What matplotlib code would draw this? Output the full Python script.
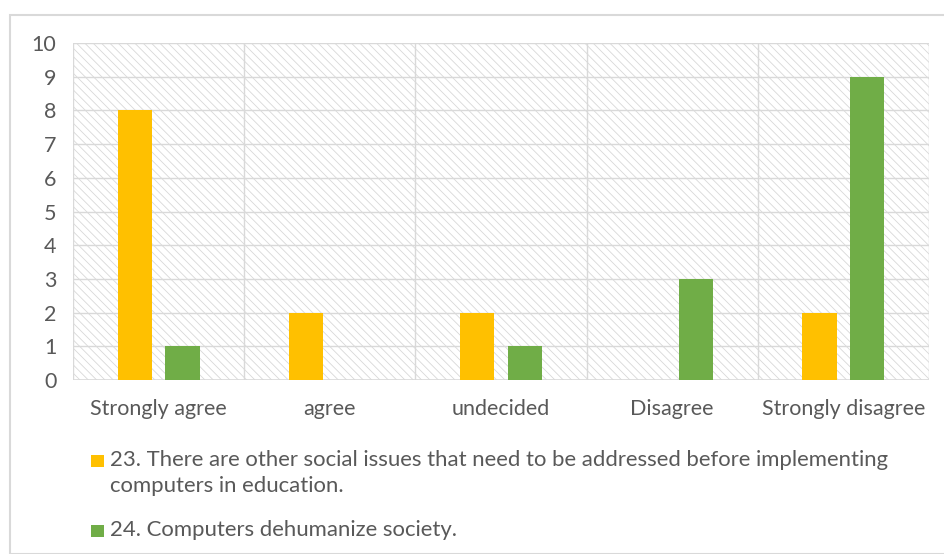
import matplotlib.pyplot as plt
import numpy as np
from matplotlib.patches import Rectangle

categories = ["Strongly agree", "agree", "undecided", "Disagree", "Strongly disagree"]
q23 = [8, 2, 2, 0, 2]
q24 = [1, 0, 1, 3, 9]
labels = ["23. There are other social issues that need to be addressed before implementing\ncomputers in education.",
          "24. Computers dehumanize society."]

orange = "#ffc000"
green = "#70ad47"
grey_txt = "#595959"
grid_c = "#d9d9d9"

plt.rcParams['font.family'] = ['Lato', 'DejaVu Sans']
plt.rcParams['hatch.linewidth'] = 0.6

W, H = 944, 554
fig = plt.figure(figsize=(W/100, H/100), dpi=100)
ax = fig.add_axes([73/W, 1 - 380/H, (929-73)/W, (380-43)/H])

# outer chart border
fig.patches.append(Rectangle((10/W, 0), 940/W, 1 - 15/H, transform=fig.transFigure,
                             fill=False, edgecolor=grid_c, linewidth=1.5, zorder=0))

# hatched plot background
ax.add_patch(Rectangle((0, 0), 1, 1, transform=ax.transAxes, facecolor='white',
                       edgecolor='#d8d8d8', hatch='\\\\\\\\', linewidth=0, zorder=0))

x = np.arange(len(categories))
w = 0.2
off = 0.14
b1 = ax.bar(x - off, q23, w, color=orange, zorder=3)
b2 = ax.bar(x + off, q24, w, color=green, zorder=3)

ax.set_xlim(-0.5, len(categories) - 0.5)
ax.set_ylim(0, 10)
ax.set_yticks(range(0, 11))
ax.set_xticks(x)
ax.set_xticklabels(categories)
ax.tick_params(length=0, labelsize=15.5, colors=grey_txt)
ax.tick_params(axis='y', pad=12)
ax.tick_params(axis='x', pad=14)

for yv in range(1, 11):
    ax.axhline(yv, color=grid_c, linewidth=1, zorder=1)
for xv in np.arange(-0.5, len(categories), 1.0):
    ax.axvline(xv, color=grid_c, linewidth=1, zorder=1)
for s in ax.spines.values():
    s.set_visible(False)
ax.axhline(0, color=grid_c, linewidth=1.2, zorder=2)

# legend drawn by hand so the square sits on the first line
legend_rows = [(b1, labels[0], 461), (b2, labels[1], 531)]
for bars, text, yc in legend_rows:
    fig.patches.append(Rectangle((91/W, 1 - (yc + 6)/H), 13/W, 12/H, transform=fig.transFigure,
                                 facecolor=bars.patches[0].get_facecolor(), edgecolor='none'))
    fig.text(110/W, 1 - (yc - 11)/H, text, fontsize=15.9, color=grey_txt,
             va='top', ha='left', linespacing=1.4)

fig.savefig("out.png", dpi=100)
